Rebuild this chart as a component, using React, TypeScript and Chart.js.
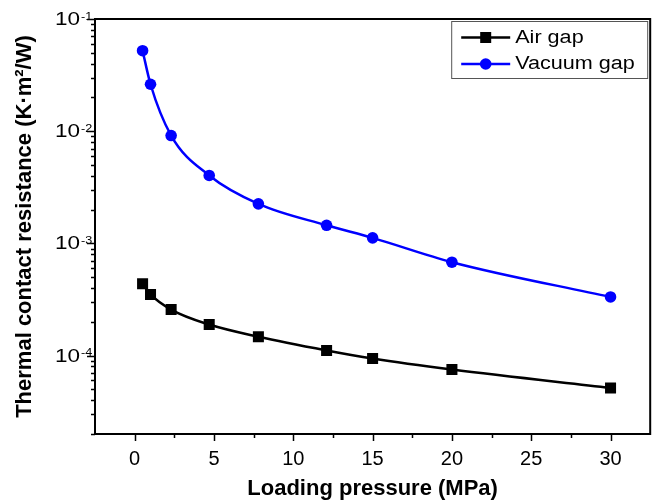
import React, { useEffect, useRef } from 'react';
import { Chart, registerables } from 'chart.js';

Chart.register(...registerables);

// ---- data ----
const pressure = [0.5, 1, 2.3, 4.7, 7.8, 12.1, 15, 20, 30];
const airGap = [4.37e-4, 3.51e-4, 2.57e-4, 1.89e-4, 1.47e-4, 1.11e-4, 9.4e-5, 7.5e-5, 5.15e-5];
const vacuumGap = [5.22e-2, 2.62e-2, 9.14e-3, 4.03e-3, 2.25e-3, 1.45e-3, 1.12e-3, 6.8e-4, 3.33e-4];
const xTickValues = [0, 5, 10, 15, 20, 25, 30];
const xMinorValues = [2.5, 7.5, 12.5, 17.5, 22.5, 27.5];
const yDecades = [-4, -3, -2, -1];
const seriesNames = ['Air gap', 'Vacuum gap'];
const seriesColors = ['#000000', '#0000ff'];
const seriesMarkers = ['rect', 'circle'];
const xTitle = 'Loading pressure (MPa)';
const yTitle = 'Thermal contact resistance (K·m²/W)';

const FONT = '"Liberation Sans", Arial, sans-serif';

const decorPlugin = {
  id: 'decor',
  afterDraw(chart: any) {
    const { ctx, chartArea: a, scales } = chart;
    const x = scales.x;
    const y = scales.y;
    ctx.save();
    ctx.strokeStyle = '#000';
    ctx.lineWidth = 2;
    ctx.strokeRect(a.left, a.top, a.right - a.left, a.bottom - a.top);

    // x tick marks (outward)
    ctx.lineWidth = 1.5;
    ctx.beginPath();
    xTickValues.forEach((v) => {
      const px = Math.round(x.getPixelForValue(v)) + 0.5;
      ctx.moveTo(px, a.bottom);
      ctx.lineTo(px, a.bottom + 7);
    });
    xMinorValues.forEach((v) => {
      const px = Math.round(x.getPixelForValue(v)) + 0.5;
      ctx.moveTo(px, a.bottom);
      ctx.lineTo(px, a.bottom + 4);
    });
    ctx.stroke();

    // y tick marks (outward), log minor ticks
    ctx.beginPath();
    for (let e = -5; e <= -1; e++) {
      for (let m = 1; m <= 9; m++) {
        const v = m * Math.pow(10, e);
        if (v < y.min * 0.999 || v > y.max * 1.001) continue;
        const py = Math.round(y.getPixelForValue(v)) + 0.5;
        const len = m === 1 ? 8 : 4;
        ctx.moveTo(a.left - len, py);
        ctx.lineTo(a.left, py);
      }
    }
    ctx.stroke();

    // y tick labels 10^n
    ctx.fillStyle = '#000';
    yDecades.forEach((e) => {
      const py = y.getPixelForValue(Math.pow(10, e));
      ctx.save();
      ctx.translate(a.left - 15, py + 1);
      ctx.scale(1.25, 1);
      ctx.font = `18px ${FONT}`;
      ctx.textAlign = 'right';
      ctx.textBaseline = 'middle';
      ctx.fillText('10', 0, 0);
      ctx.restore();
      ctx.save();
      ctx.translate(a.left - 14, py + 0.5);
      ctx.scale(1.15, 1);
      ctx.font = `11px ${FONT}`;
      ctx.textAlign = 'left';
      ctx.textBaseline = 'alphabetic';
      ctx.fillText(String(e), 0, 0);
      ctx.restore();
    });

    // legend
    const bx = a.right - 199;
    const by = a.top + 2;
    ctx.strokeStyle = '#555';
    ctx.lineWidth = 1;
    ctx.strokeRect(bx + 0.5, by + 0.5, 196, 57);
    const rows = [by + 16.5, by + 43];
    seriesNames.forEach((name, i) => {
      const ry = rows[i];
      const color = seriesColors[i];
      ctx.strokeStyle = color;
      ctx.fillStyle = color;
      ctx.lineWidth = 2.5;
      ctx.beginPath();
      ctx.moveTo(bx + 10, ry);
      ctx.lineTo(bx + 59, ry);
      ctx.stroke();
      const mx = bx + 34.5;
      if (seriesMarkers[i] === 'rect') {
        ctx.fillRect(mx - 5.5, ry - 5.5, 11, 11);
      } else {
        ctx.beginPath();
        ctx.arc(mx, ry, 5.8, 0, Math.PI * 2);
        ctx.fill();
      }
      ctx.save();
      ctx.translate(bx + 64, ry + 0.5);
      ctx.scale(1.2, 1);
      ctx.fillStyle = '#000';
      ctx.font = `18px ${FONT}`;
      ctx.textAlign = 'left';
      ctx.textBaseline = 'middle';
      ctx.fillText(name, 0, 0);
      ctx.restore();
    });
    ctx.restore();
  },
};

export default function App() {
  const canvasRef = useRef<HTMLCanvasElement | null>(null);

  useEffect(() => {
    document.body.style.margin = '0';
    const canvas = canvasRef.current;
    if (!canvas) return;
    const seriesData = [airGap, vacuumGap];
    const chart = new Chart(canvas, {
      type: 'line',
      data: {
        datasets: seriesNames.map((name, i) => ({
          label: name,
          data: pressure.map((p, j) => ({ x: p, y: seriesData[i][j] })),
          borderColor: seriesColors[i],
          backgroundColor: seriesColors[i],
          pointBackgroundColor: seriesColors[i],
          borderWidth: 2.5,
          pointStyle: seriesMarkers[i] as any,
          pointRadius: seriesMarkers[i] === 'rect' ? 7.8 : 5.8,
          pointBorderWidth: 0,
          cubicInterpolationMode: 'monotone' as const,
          fill: false,
        })),
      },
      options: {
        animation: false,
        responsive: false,
        devicePixelRatio: 1,
        layout: { padding: { top: 19, right: 7, left: 0, bottom: 0 } },
        plugins: { legend: { display: false }, tooltip: { enabled: false } },
        scales: {
          x: {
            type: 'linear',
            min: -2.5,
            max: 32.5,
            afterBuildTicks: (s: any) => {
              s.ticks = xTickValues.map((v) => ({ value: v }));
            },
            ticks: {
              font: { family: FONT, size: 20 },
              color: '#000',
              padding: 13,
              maxRotation: 0,
              autoSkip: false,
            },
            grid: { display: false, drawTicks: false },
            border: { display: false },
            title: {
              display: true,
              text: xTitle,
              font: { family: FONT, size: 22, weight: 'bold' },
              color: '#000',
              padding: { top: 0, bottom: 1 },
            },
            afterFit: (s: any) => {
              s.height = 69;
            },
          },
          y: {
            type: 'logarithmic',
            min: 2e-5,
            max: 0.1,
            ticks: { display: false },
            grid: { display: false, drawTicks: false },
            border: { display: false },
            title: {
              display: true,
              text: yTitle,
              font: { family: FONT, size: 22, weight: 'bold' },
              color: '#000',
              padding: { top: 12, bottom: 0 },
            },
            afterFit: (s: any) => {
              s.width = 95;
            },
          },
        },
      },
      plugins: [decorPlugin],
    });
    return () => chart.destroy();
  }, []);

  return (
    <div style={{ width: 658, height: 503, background: '#fff' }}>
      <canvas ref={canvasRef} width={658} height={503} />
    </div>
  );
}
